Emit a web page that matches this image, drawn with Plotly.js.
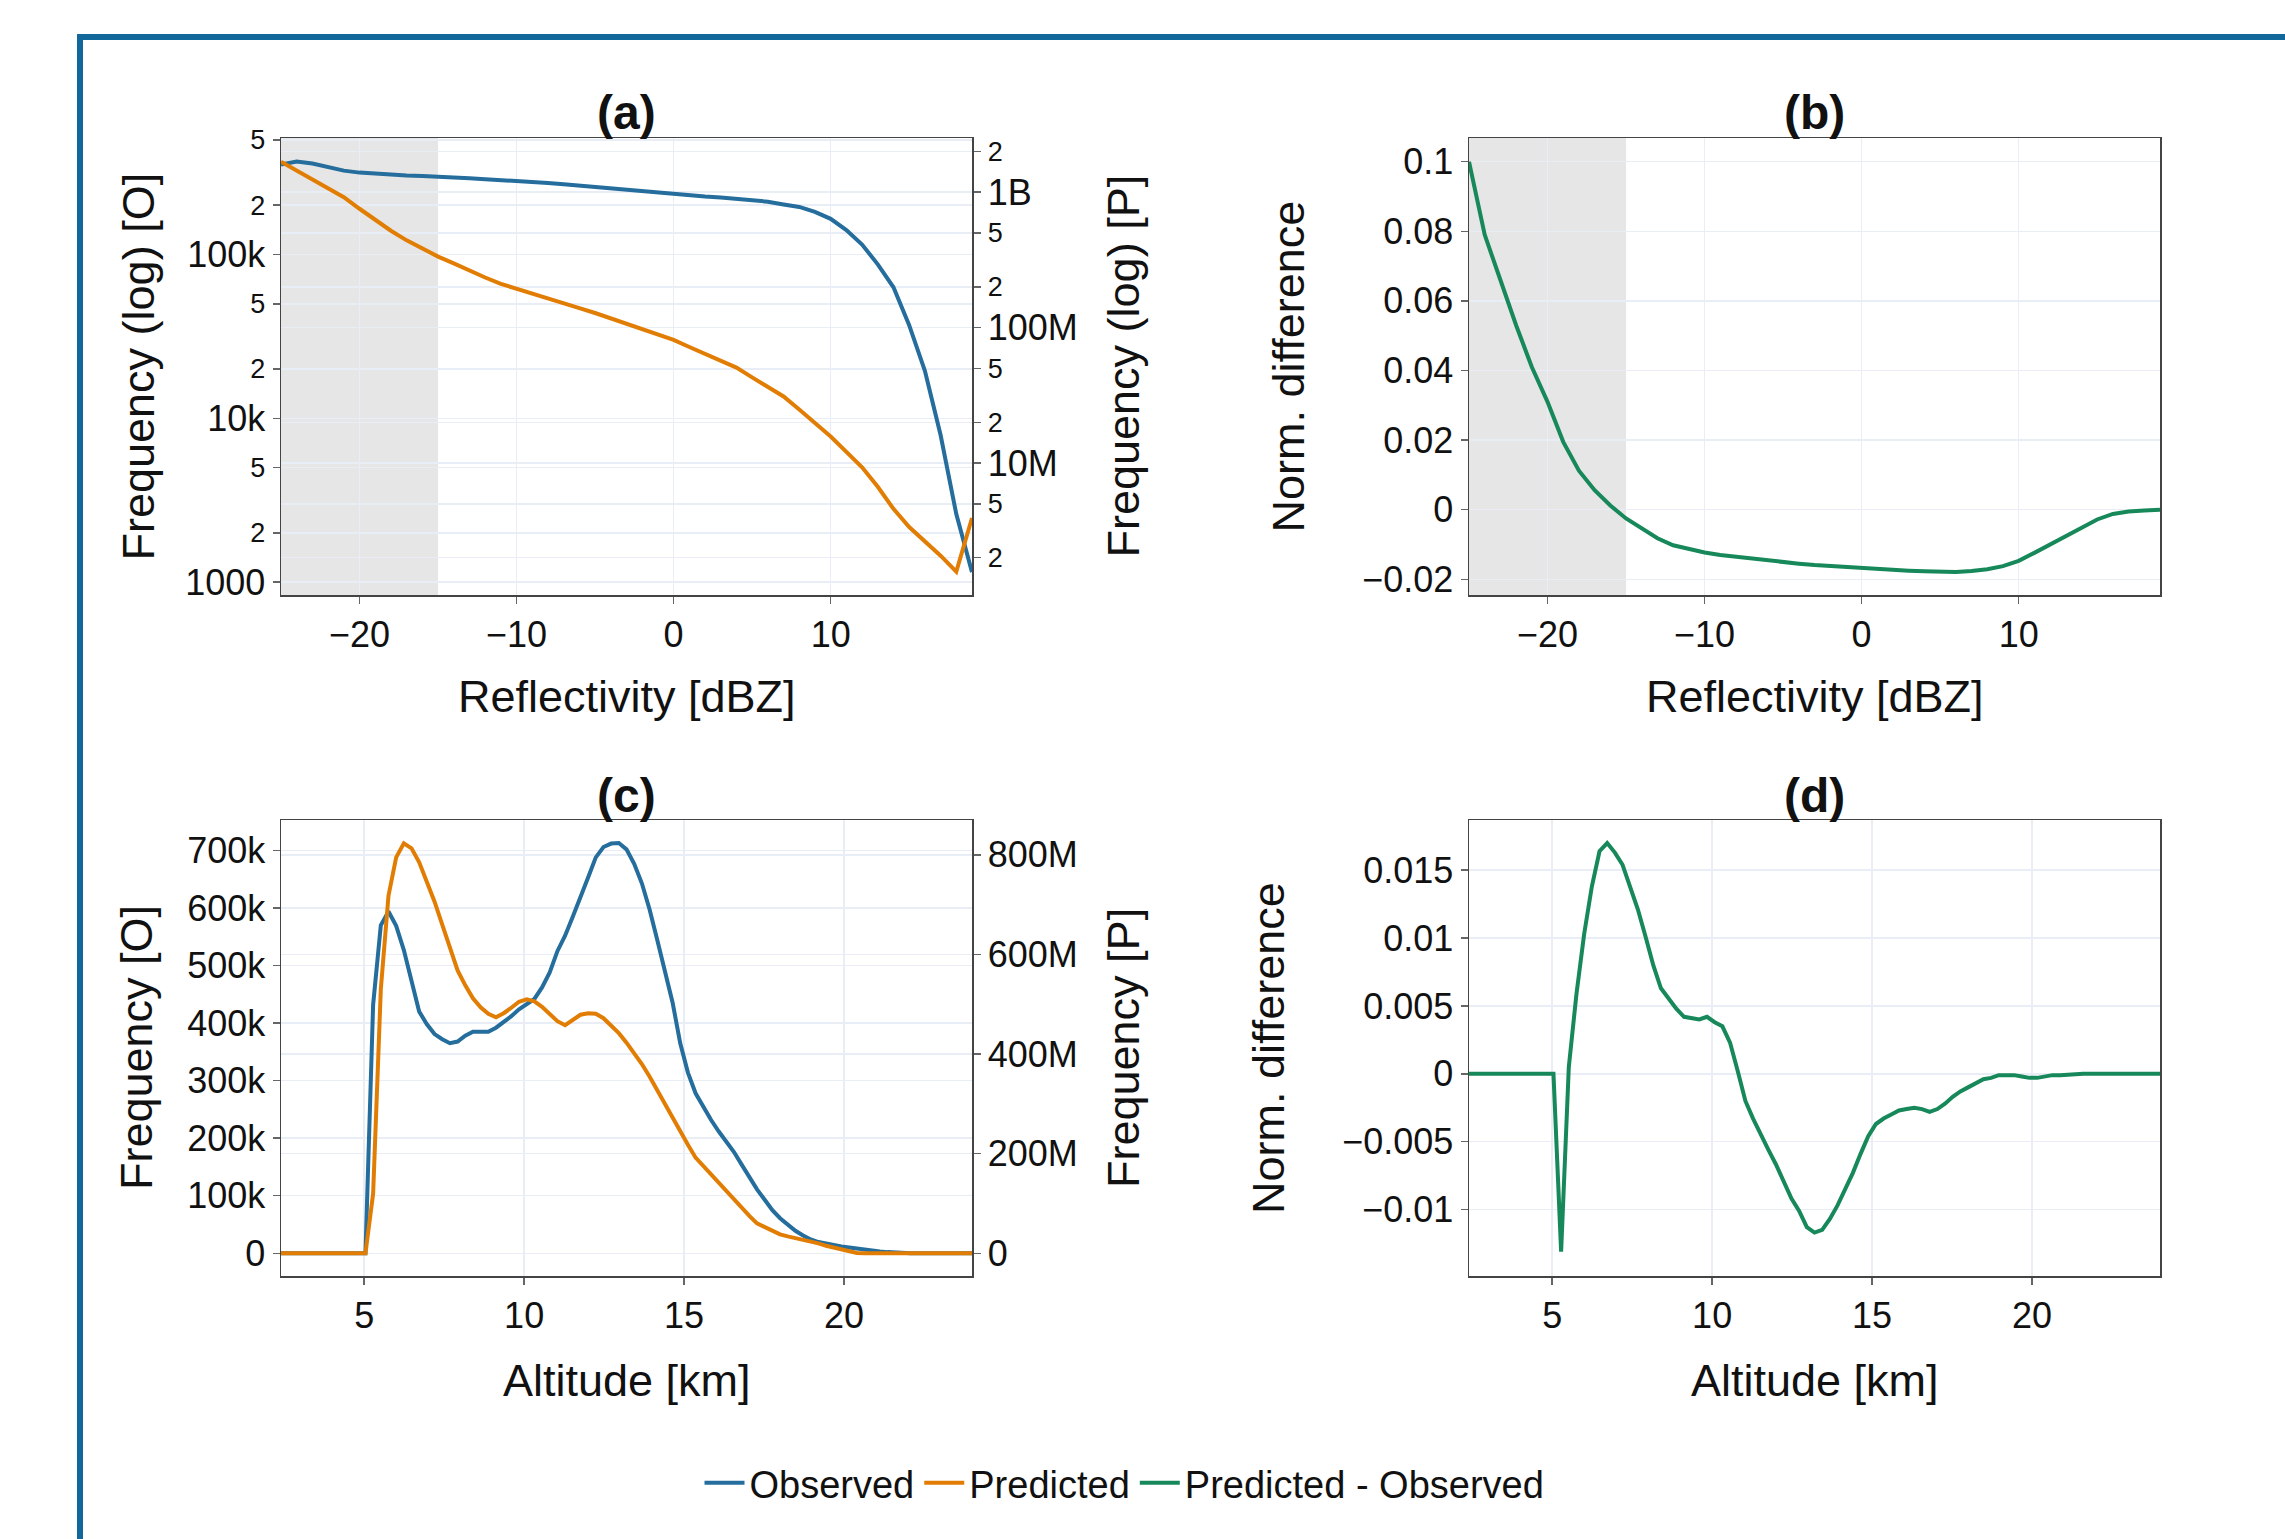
<!DOCTYPE html>
<html><head><meta charset="utf-8">
<script src="https://cdn.plot.ly/plotly-3.0.1.min.js"></script>
<style>html,body{margin:0;padding:0;background:#fff;} #chart{width:2285px;height:1539px;}</style>
</head><body><div id="chart"></div>
<script>
// ---- Reflectivity panels (a), (b) ----
const reflectivity = [-25,-24,-23,-22,-21,-20,-19,-18,-17,-16,-15,-14,-13,-12,-11,-10,-9,-8,-7,-6,-5,-4,-3,-2,-1,0,1,2,3,4,5,6,7,8,9,10,11,12,13,14,15,16,17,18,19];
const obsRefl = [354000,369000,359000,343000,325000,316000,311000,307000,303000,301000,299000,296000,292000,288000,285000,282000,277000,273000,268000,263000,258000,253000,247000,242000,237000,232000,230000,226000,223000,219000,215000,210000,202000,195000,182000,165000,141000,115000,87000,63000,37000,19500,7900,2600,1150];
const predRefl = [1.675e9,1.445e9,1.245e9,1.072e9,9.16e8,7.53e8,6.24e8,5.18e8,4.40e8,3.84e8,3.34e8,2.98e8,2.63e8,2.34e8,2.10e8,1.94e8,1.79e8,1.64e8,1.51e8,1.39e8,1.28e8,1.17e8,1.07e8,9.75e7,8.89e7,8.11e7,7.19e7,6.40e7,5.69e7,5.06e7,4.29e7,3.65e7,3.10e7,2.48e7,1.97e7,1.57e7,1.21e7,9.31e6,6.68e6,4.59e6,3.37e6,2.66e6,2.07e6,1.58e6,3.93e6];
const diffRefl = [0.100,0.079,0.066,0.053,0.041,0.031,0.0195,0.0112,0.0056,0.0012,-0.0025,-0.0055,-0.0082,-0.0102,-0.0114,-0.0123,-0.0130,-0.0135,-0.0141,-0.0147,-0.0151,-0.0155,-0.0159,-0.0162,-0.0164,-0.0166,-0.0169,-0.0172,-0.0175,-0.0177,-0.0178,-0.0179,-0.0176,-0.0171,-0.0162,-0.0147,-0.0124,-0.0100,-0.0075,-0.0050,-0.0028,-0.0012,-0.0005,-0.0002,0.0000];

// ---- Altitude panels (c), (d) ----
const altitude = [2.4,2.64,2.88,3.12,3.36,3.6,3.84,4.08,4.32,4.56,4.8,5.04,5.28,5.52,5.76,6,6.24,6.48,6.72,6.96,7.2,7.44,7.68,7.92,8.16,8.4,8.64,8.88,9.12,9.36,9.6,9.84,10.08,10.32,10.56,10.8,11.04,11.28,11.52,11.76,12,12.24,12.48,12.72,12.96,13.2,13.44,13.68,13.92,14.16,14.4,14.64,14.88,15.12,15.36,15.6,15.84,16.08,16.32,16.56,16.8,17.04,17.28,17.52,17.76,18,18.24,18.48,18.72,18.96,19.2,19.44,19.68,19.92,20.16,20.4,20.64,20.88,21.12,21.36,21.6,21.84,22.08,22.32,22.56,22.8,23.04,23.28,23.52,23.76,24];
const obsAlt = [0,0,0,0,0,0,0,0,0,0,0,0,432000,570000,594000,569000,527000,472000,420000,398000,381000,372000,365000,368000,378000,385000,385000,385000,392000,401000,412000,424000,434000,442000,462000,488000,525000,552000,585000,617000,653000,688000,706000,712000,713000,702000,677000,643000,598000,545000,492000,436000,365000,314000,278000,254000,232000,212000,195000,176000,154000,131000,111000,93000,75000,61000,49000,39000,31000,24000,19500,16500,14000,12000,10000,8000,6000,4500,3000,2000,1000,500,0,0,0,0,0,0,0,0,0];
const predAlt = [0,0,0,0,0,0,0,0,0,0,0,0,120e6,530e6,718e6,795e6,823e6,813e6,785e6,748e6,706e6,660e6,614e6,568e6,538e6,512e6,494e6,481e6,474e6,482e6,493e6,505e6,510e6,506e6,495e6,480e6,466e6,458e6,468e6,479e6,482e6,481e6,472e6,457e6,442e6,423e6,403e6,380e6,355e6,327e6,299e6,271e6,244e6,218e6,192e6,175e6,158e6,142e6,126e6,109e6,91e6,75e6,60e6,52e6,44e6,38e6,34e6,31e6,28e6,24e6,20e6,15e6,11e6,6.5e6,3e6,0.5e6,0,0,0,0,0,0,0,0,0,0,0,0,0,0,0];
const diffAlt = [0,0,0,0,0,0,0,0,0,0,0,0,-0.0131,0.0005,0.0059,0.0103,0.0138,0.0164,0.0170,0.0163,0.0154,0.0138,0.0121,0.0101,0.0080,0.0063,0.0055,0.0048,0.0042,0.0041,0.0040,0.0042,0.0038,0.0035,0.0023,0.0002,-0.0020,-0.0033,-0.0045,-0.0056,-0.0067,-0.0079,-0.0092,-0.0101,-0.0113,-0.0117,-0.0115,-0.0107,-0.0097,-0.0085,-0.0073,-0.0059,-0.0046,-0.0037,-0.0033,-0.0030,-0.0027,-0.0026,-0.0025,-0.0026,-0.0028,-0.0026,-0.0022,-0.0017,-0.0013,-0.0010,-0.0007,-0.0004,-0.0003,-0.0001,-0.0001,-0.0001,-0.0002,-0.0003,-0.0003,-0.0002,-0.0001,-0.0001,-0.00005,0,0,0,0,0,0,0,0,0,0,0,0];

const seriesNames = ['Observed','Predicted','Predicted - Observed'];
const panelTitles = ['(a)','(b)','(c)','(d)'];
const xTitles = ['Reflectivity [dBZ]','Reflectivity [dBZ]','Altitude [km]','Altitude [km]'];
const yTitles = ['Frequency (log) [O]','Frequency (log) [P]','Norm. difference','Frequency [O]','Frequency [P]','Norm. difference'];

const FONT = 'Liberation Sans, Arial, sans-serif';
const C_OBS = '#246d9c', C_PRED = '#e27d04', C_DIFF = '#17885a';
const GRID = '#e9eef6';

function ax(extra) {
  return Object.assign({
    showline: true, linecolor: '#444', linewidth: 1.5, mirror: true,
    ticks: 'outside', ticklen: 7, tickcolor: '#666', tickwidth: 1.5,
    showgrid: true, gridcolor: GRID, gridwidth: 1.5, zeroline: false,
    tickfont: {family: FONT, size: 36, color: '#111'}
  }, extra);
}

const LW = 4;
const traces = [
  {x: reflectivity, y: obsRefl, xaxis: 'x', yaxis: 'y', mode: 'lines', name: seriesNames[0], line: {color: C_OBS, width: LW}},
  {x: reflectivity, y: predRefl, xaxis: 'x', yaxis: 'y2', mode: 'lines', name: seriesNames[1], line: {color: C_PRED, width: LW}},
  {x: reflectivity, y: diffRefl, xaxis: 'x2', yaxis: 'y3', mode: 'lines', name: seriesNames[2], line: {color: C_DIFF, width: LW}},
  {x: altitude, y: obsAlt, xaxis: 'x3', yaxis: 'y4', mode: 'lines', name: seriesNames[0], showlegend: false, line: {color: C_OBS, width: LW}},
  {x: altitude, y: predAlt, xaxis: 'x3', yaxis: 'y5', mode: 'lines', name: seriesNames[1], showlegend: false, line: {color: C_PRED, width: LW}},
  {x: altitude, y: diffAlt, xaxis: 'x4', yaxis: 'y6', mode: 'lines', name: seriesNames[2], showlegend: false, line: {color: C_DIFF, width: LW}}
];

const W = 2285, H = 1539;
const xL = [281/W, 972/W], xR = [1469/W, 2160/W];
const yT = [1 - 595/H, 1 - 138/H], yB = [1 - 1276/H, 1 - 820/H];

function txt(text, xpx, ypx, size, angle, bold) {
  return {text: bold ? '<b>' + text + '</b>' : text, xref: 'paper', yref: 'paper',
    x: xpx / W, y: 1 - ypx / H, showarrow: false, textangle: angle || 0,
    xanchor: 'center', yanchor: 'middle', font: {family: FONT, size: size, color: '#111'}};
}

const cxL = 626.5, cxR = 1814.5, cyT = 366.5, cyB = 1048;
const annotations = [
  txt(panelTitles[0], cxL, 113, 48, 0, true),
  txt(panelTitles[1], cxR, 113, 48, 0, true),
  txt(panelTitles[2], cxL, 795, 48, 0, true),
  txt(panelTitles[3], cxR, 795, 48, 0, true),
  txt(xTitles[0], cxL, 697, 45),
  txt(xTitles[1], cxR, 697, 45),
  txt(xTitles[2], cxL, 1380, 45),
  txt(xTitles[3], cxR, 1380, 45),
  txt(yTitles[0], 138, cyT, 45, -90),
  txt(yTitles[1], 1123, cyT, 45, -90),
  txt(yTitles[2], 1288, cyT, 45, -90),
  txt(yTitles[3], 136, cyB, 45, -90),
  txt(yTitles[4], 1123, cyB, 45, -90),
  txt(yTitles[5], 1268, cyB, 45, -90)
];

const layout = {
  width: W, height: H,
  margin: {l: 0, r: 0, t: 0, b: 0},
  paper_bgcolor: '#fff', plot_bgcolor: '#fff',
  font: {family: FONT, color: '#111'},
  showlegend: true,
  legend: {orientation: 'h', x: 1124.5 / W, xanchor: 'center', y: 1 - 1483/H, yanchor: 'middle',
           itemwidth: 40, font: {family: FONT, size: 38, color: '#111'}, bgcolor: 'rgba(0,0,0,0)'},
  xaxis: ax({domain: xL, anchor: 'y', range: [-25, 19], dtick: 10}),
  yaxis: ax({domain: yT, anchor: 'x', type: 'log', range: [2.921, 5.711], dtick: 'D2'}),
  yaxis2: ax({overlaying: 'y', side: 'right', anchor: 'x', type: 'log', range: [6.026, 9.399], dtick: 'D2', mirror: false}),
  xaxis2: ax({domain: xR, anchor: 'y3', range: [-25, 19], dtick: 10}),
  yaxis3: ax({domain: yT, anchor: 'x2', range: [-0.0245, 0.1068], dtick: 0.02}),
  xaxis3: ax({domain: xL, anchor: 'y4', range: [2.4, 24], dtick: 5}),
  yaxis4: ax({domain: yB, anchor: 'x3', range: [-39500, 753000], dtick: 100000}),
  yaxis5: ax({overlaying: 'y4', side: 'right', anchor: 'x3', range: [-45.6e6, 870e6], dtick: 200e6, mirror: false}),
  xaxis4: ax({domain: xR, anchor: 'y6', range: [2.4, 24], dtick: 5}),
  yaxis6: ax({domain: yB, anchor: 'x4', range: [-0.0149, 0.0187], dtick: 0.005}),
  shapes: [
    {type: 'rect', xref: 'x', yref: 'y domain', x0: -25, x1: -15, y0: 0, y1: 1, fillcolor: '#e6e6e6', line: {width: 0}, layer: 'below'},
    {type: 'rect', xref: 'x2', yref: 'y3 domain', x0: -25, x1: -15, y0: 0, y1: 1, fillcolor: '#e6e6e6', line: {width: 0}, layer: 'below'},
    {type: 'rect', xref: 'paper', yref: 'paper', x0: 80/W, x1: 1.2, y0: -0.2, y1: 1 - 37/H, fillcolor: 'rgba(0,0,0,0)', line: {color: '#12679b', width: 6}}
  ],
  annotations: annotations
};

Plotly.newPlot('chart', traces, layout, {displayModeBar: false, staticPlot: true});
</script>
</body></html>
